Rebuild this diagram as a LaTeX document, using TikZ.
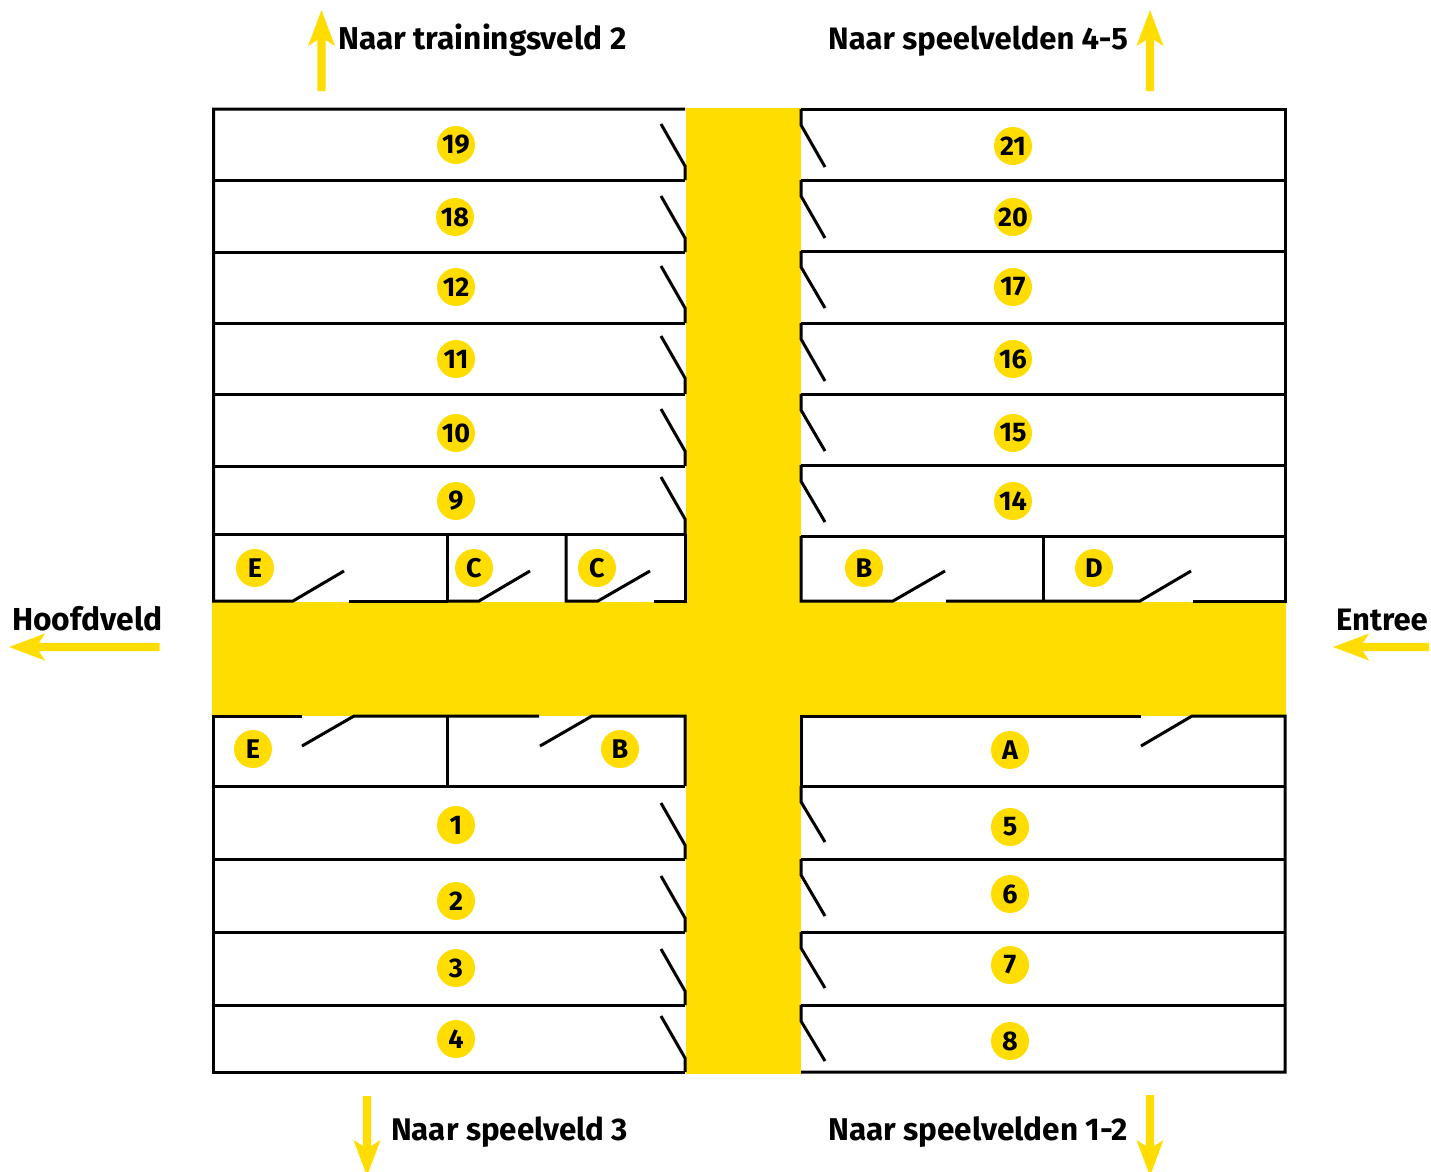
\documentclass[tikz,border=0pt]{standalone}
\usepackage{fontspec}
\setmainfont{Fira Sans}
\definecolor{route}{HTML}{FFDD00}
\newcommand{\wayarrow}[4]{% tip x, tip y, direction angle, length
  \fill[route,shift={(#1,#2)},rotate=#3] (0,0) -- (-36,13.5) -- (-30,4.2) -- (-#4,4.2) -- (-#4,-4.2) -- (-30,-4.2) -- (-36,-13.5) -- cycle;}
\newcommand{\bay}[3]{\node[badge] (#3) at (#1,#2) {#3};}
\tikzset{
  wall/.style={line width=3pt,line cap=butt,line join=miter,draw=black},
  badge/.style={circle,fill=route,minimum size=38pt,inner sep=0pt,font=\fontsize{27}{27}\selectfont\bfseries,text=black},
  sign/.style={anchor=base west,inner sep=0pt,font=\fontsize{#1}{#1}\selectfont\bfseries,text=black}
}
\begin{document}
\begin{tikzpicture}[x=1pt,y=-1pt]
\useasboundingbox (0,0) rectangle (1431,1171);
\fill[white] (0,0) rectangle (1431,1171);
% yellow paths
\fill[route] (686,108) rectangle (801,1074);
\fill[route] (212,602) rectangle (1286,716);
% outer walls
\draw[wall] (685,109) -- (213.5,109) -- (213.5,601) -- (293,601) -- (344,571);
\draw[wall] (349,601) -- (448,601);
\draw[wall] (685,1072) -- (213.5,1072) -- (213.5,716) -- (302,716);
\draw[wall] (801,1072) -- (1285,1072) -- (1285,716) -- (1192,716) -- (1141,746);
\draw[wall] (801,109) -- (1285,109) -- (1285,601) -- (1193,601);
% left rows
\foreach \yy in {180,252,323,394,466,534,786,859,932,1005}
  \draw[wall] (213.5,\yy) -- (685,\yy);
% right rows
\foreach \yy in {180,251,323,394,465,536,786,859,932,1005}
  \draw[wall] (801,\yy) -- (1285,\yy);
% left row doors: row bottom, door top
\foreach \bot/\tp in {180/124,252/196,323/266,394/336,466/409,534/477,859/803,932/876,1005/949,1072/1016}
  \draw[wall] (685,\bot) -- (685,\tp+42) -- (661,\tp);
% right row doors: row top, door end
\foreach \tp/\en in {109/167,180/238,251/308,323/381,394/451,465/522,786/842,859/916,932/988,1005/1061}
  \draw[wall] (801,\tp) -- (801,\tp+16) -- (825,\en);
% upper small rooms, left
\draw[wall] (447.7,534) -- (447.7,601);
\draw[wall] (447.7,601) -- (479,601) -- (530,571);
\draw[wall] (566,534) -- (566,601) -- (598,601) -- (650,571);
\draw[wall] (654,601) -- (685,601) -- (685,534);
% lower small rooms, left
\draw[wall] (302,746) -- (354,716) -- (539,716);
\draw[wall] (540,746) -- (592,716) -- (685,716) -- (685,786);
\draw[wall] (447.7,716) -- (447.7,786);
% upper small rooms, right
\draw[wall] (801,536) -- (801,601) -- (893,601) -- (945,571);
\draw[wall] (946,601) -- (1140,601) -- (1191,571);
\draw[wall] (1043,536) -- (1043,601);
% lower room, right
\draw[wall] (801,786) -- (801,716) -- (1141,716);
% badges
\bay{456}{145}{19}\bay{455}{217}{18}\bay{456}{287}{12}\bay{456}{359}{11}\bay{456}{433}{10}\bay{456}{501}{9}
\bay{1013}{146}{21}\bay{1013}{217}{20}\bay{1013}{287}{17}\bay{1013}{359}{16}\bay{1013}{433}{15}\bay{1013}{501}{14}
\node[badge] (E1) at (255,568) {E};
\node[badge] (C1) at (474,568) {C};
\node[badge] (C2) at (597,568) {C};
\node[badge] (B1) at (864,568) {B};
\node[badge] (D1) at (1094,568) {D};
\node[badge] (E2) at (253,749) {E};
\node[badge] (B2) at (620,749) {B};
\node[badge] (A1) at (1010,750) {A};
\bay{456}{825}{1}\bay{456}{901}{2}\bay{456}{968}{3}\bay{456}{1039}{4}
\bay{1010}{827}{5}\bay{1010}{894}{6}\bay{1010}{965}{7}\bay{1010}{1041}{8}
% arrows
\wayarrow{321.5}{10}{90}{81}
\wayarrow{1150}{10}{90}{81}
\begin{scope}
\clip (0,0) rectangle (1431,1171);
\wayarrow{367}{1176}{-90}{80}
\wayarrow{1150}{1176}{-90}{81}
\end{scope}
\wayarrow{9}{647}{180}{150.5}
\wayarrow{1333}{647}{180}{96}
% signs
\node[sign=31.6] (t2) at (338,49) {Naar trainingsveld 2};
\node[sign=31] (s45) at (828,49) {Naar speelvelden 4-5};
\node[sign=31.8] (hf) at (12,630) {Hoofdveld};
\node[sign=31] (en) at (1336,630) {Entree};
\node[sign=31.3] (s3) at (391,1140) {Naar speelveld 3};
\node[sign=31.5] (s12) at (828,1140) {Naar speelvelden 1-2};
\end{tikzpicture}
\end{document}
